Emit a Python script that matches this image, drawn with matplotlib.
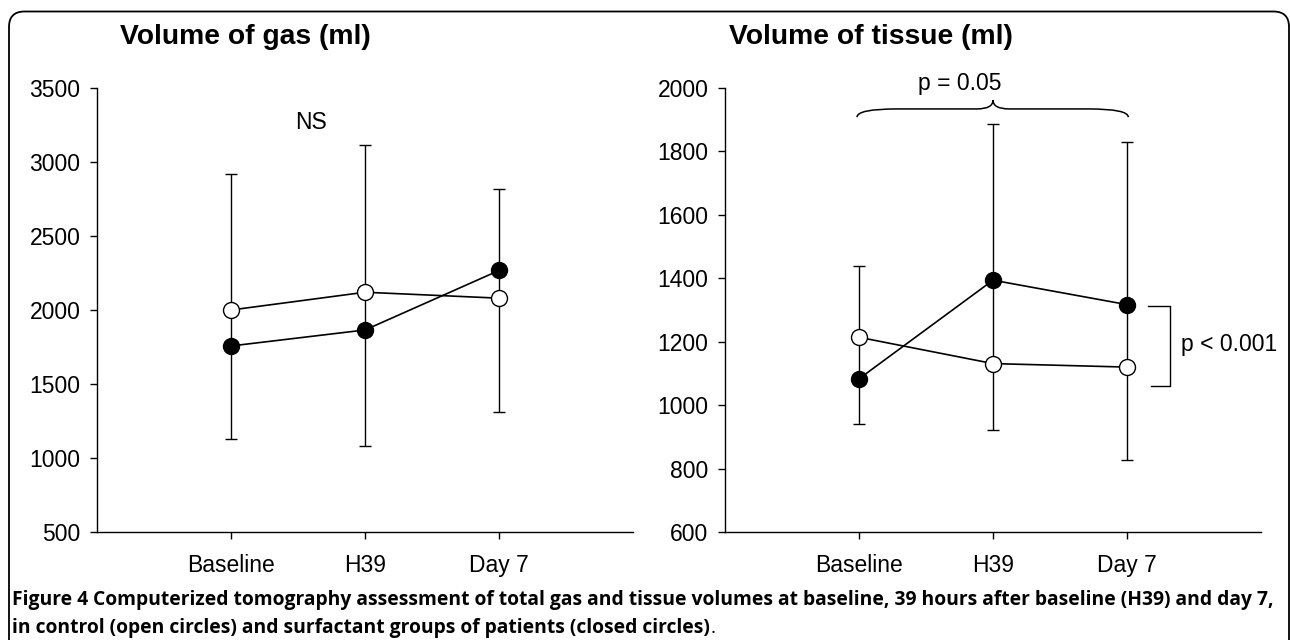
import matplotlib
matplotlib.use("Agg")
import matplotlib.pyplot as plt
from matplotlib.patches import FancyBboxPatch, PathPatch
from matplotlib.path import Path

timepoints = ["Baseline", "H39", "Day 7"]

# volume of gas (ml)
gas_control = [2000, 2120, 2080]
gas_surfactant = [1757, 1865, 2267]
gas_err_low = [1127, 1079, 1308]
gas_err_high = [2918, 3113, 2815]

# volume of tissue (ml)
tissue_control = [1214, 1131, 1120]
tissue_surfactant = [1083, 1394, 1317]
tissue_err_low = [942, 923, 828]
tissue_err_high = [1440, 1887, 1830]

plt.rcParams['font.family'] = ['Liberation Sans', 'DejaVu Sans']

W, H = 1290, 640
fig = plt.figure(figsize=(W / 100, H / 100), dpi=100)

def px(x, y):
  return x / W, 1 - y / H

# rounded frame round the panels (runs off the bottom)
frame = FancyBboxPatch((9 / W, -0.1), (1289 - 9) / W, 1 - 11.5 / H + 0.1,
                       boxstyle="round,pad=0,rounding_size=0.012",
                       transform=fig.transFigure, fill=False, edgecolor="black",
                       linewidth=1.3, mutation_aspect=W / H)
fig.patches.append(frame)

ax1 = fig.add_axes([97 / W, 1 - 532 / H, 536 / W, 444 / H])
ax2 = fig.add_axes([725 / W, 1 - 532 / H, 536 / W, 444 / H])

xs = [1, 2, 3]

def draw_panel(ax, control, surfactant, low, high, ylim, yticks):
  lower = [c - l for c, l in zip(control, low)]
  upper = [h - c for c, h in zip(control, high)]
  ax.errorbar(xs, control, yerr=[lower, upper], fmt='none', ecolor='black',
              elinewidth=1.0, capsize=4.5, capthick=1.0, zorder=2)
  ax.plot(xs, surfactant, color='black', lw=1.2, marker='o', markersize=11.5,
          markerfacecolor='black', markeredgecolor='black', zorder=3, clip_on=False)
  ax.plot(xs, control, color='black', lw=1.2, marker='o', markersize=11.5,
          markerfacecolor='white', markeredgecolor='black', markeredgewidth=1.0,
          zorder=4, clip_on=False)
  ax.set_xlim(0, 4)
  ax.set_ylim(*ylim)
  ax.set_yticks(yticks)
  ax.set_xticks(xs)
  ax.set_xticklabels(timepoints)
  for s in ['top', 'right']:
    ax.spines[s].set_visible(False)
  for s in ['left', 'bottom']:
    ax.spines[s].set_linewidth(1.0)
  ax.tick_params(direction='out', length=5, width=1.0, labelsize=16.5)
  ax.tick_params(axis='y', pad=7)
  ax.tick_params(axis='x', pad=11)

draw_panel(ax1, gas_control, gas_surfactant, gas_err_low, gas_err_high,
           (500, 3500), range(500, 3501, 500))
draw_panel(ax2, tissue_control, tissue_surfactant, tissue_err_low, tissue_err_high,
           (600, 2000), range(600, 2001, 200))

ax1.text(1.6, 3270, "NS", fontsize=16.5, ha='center', va='center')

# curly brace over tissue panel
x0, xm, x1 = 0.985, 2.0, 3.01
y_end, y_flat, y_tip = 1908, 1934, 1962
verts = [(x0, y_end), (x0, y_flat), (x0 + 0.3, y_flat),
         (xm - 0.12, y_flat), (xm, y_flat), (xm, y_tip),
         (xm, y_flat), (xm + 0.12, y_flat),
         (x1 - 0.3, y_flat), (x1, y_flat), (x1, y_end)]
codes = [Path.MOVETO, Path.CURVE3, Path.CURVE3,
         Path.LINETO, Path.CURVE3, Path.CURVE3,
         Path.CURVE3, Path.CURVE3,
         Path.LINETO, Path.CURVE3, Path.CURVE3]
ax2.add_patch(PathPatch(Path(verts, codes), fill=False, edgecolor='black',
                        lw=1.1, clip_on=False))
ax2.text(1.754, 2013, "p = 0.05", fontsize=16.5, ha='center', va='center', clip_on=False)

# bracket for group difference
ax2.plot([3.157, 3.32, 3.32, 3.18], [1313, 1313, 1060, 1060], color='black',
         lw=1.0, clip_on=False)
ax2.text(3.40, 1190, "p < 0.001", fontsize=16.5, ha='left', va='center', clip_on=False)

# panel titles
fig.text(*px(120, 37), "Volume of gas (ml)", fontsize=20.3, fontweight='bold',
         ha='left', va='center')
fig.text(*px(729, 37), "Volume of tissue (ml)", fontsize=20.3, fontweight='bold',
         ha='left', va='center')

# caption (bold, except the closing period)
cap_font = ['Open Sans', 'DejaVu Sans']
cap_size = 13.9
renderer = fig.canvas.get_renderer()
lbl = fig.text(*px(12, 600), "Figure 4", fontsize=cap_size, fontweight='bold',
               family=cap_font, ha='left', va='center')
bb = lbl.get_window_extent(renderer)
fig.text(bb.x1 / W + 5 / W, 1 - 600 / H,
         "Computerized tomography assessment of total gas and tissue volumes at baseline, "
         "39 hours after baseline (H39) and day 7,",
         fontsize=cap_size, fontweight='bold', family=cap_font, ha='left', va='center')
line2 = fig.text(*px(12, 628),
                 "in control (open circles) and surfactant groups of patients (closed circles)",
                 fontsize=cap_size, fontweight='bold', family=cap_font, ha='left', va='center')
bb2 = line2.get_window_extent(renderer)
fig.text(bb2.x1 / W + 1 / W, 1 - 628 / H, ".", fontsize=cap_size, family=cap_font,
         ha='left', va='center')

fig.savefig("out.png", dpi=100)
